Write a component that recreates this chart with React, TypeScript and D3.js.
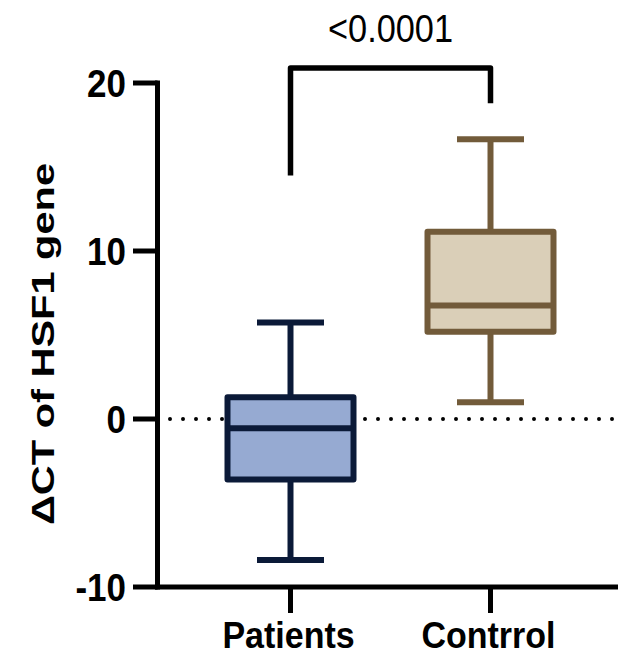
import React from 'react';
import * as d3 from 'd3';

const WIDTH = 618;
const HEIGHT = 662;
const FONT = 'Liberation Sans, Arial, Helvetica, sans-serif';

// data
const categories = ['Patients', 'Contrrol'];
const whiskerLow = [-8.4, 1.0];
const q1 = [-3.6, 5.2];
const median = [-0.55, 6.75];
const q3 = [1.3, 11.15];
const whiskerHigh = [5.75, 16.65];
const fills = ['#96aad2', '#dacfb8'];
const strokes = ['#0b1a38', '#725b3a'];
const yTicks = [-10, 0, 10, 20];
const pLabel = '<0.0001';
const bracket = { left: 14.5, top: 20.9, right: 18.8 };

const AXIS_X = 157.5;
const AXIS_Y = 587;
const STRETCH = 1.1; // text in the picture is a bit taller than wide

const App = () => {
  const y = d3.scaleLinear().domain([-10, 20]).range([587, 83]);
  const x = d3
    .scaleBand()
    .domain(categories)
    .range([190.5, 590.5])
    .paddingInner(0.37)
    .paddingOuter(0.185);
  const bw = x.bandwidth();
  const capHalf = 33.5;

  const bracketPath = d3.path();
  const bx0 = x(categories[0]) + bw / 2;
  const bx1 = x(categories[1]) + bw / 2;
  bracketPath.moveTo(bx0, y(bracket.left));
  bracketPath.lineTo(bx0, y(bracket.top));
  bracketPath.lineTo(bx1, y(bracket.top));
  bracketPath.lineTo(bx1, y(bracket.right));

  return (
    <svg
      width={WIDTH}
      height={HEIGHT}
      style={{ position: 'absolute', left: 0, top: 0, background: '#fff' }}
    >
      {/* zero reference line */}
      <line
        x1={170}
        x2={WIDTH}
        y1={y(0)}
        y2={y(0)}
        stroke="#000"
        strokeWidth={4}
        strokeLinecap="round"
        strokeDasharray="0 13"
      />

      {/* boxes */}
      {categories.map((c, i) => {
        const cx = x(c) + bw / 2;
        return (
          <g key={c} stroke={strokes[i]} strokeWidth={6}>
            <line x1={cx} x2={cx} y1={y(whiskerHigh[i])} y2={y(q3[i])} />
            <line x1={cx} x2={cx} y1={y(q1[i])} y2={y(whiskerLow[i])} />
            <line x1={cx - capHalf} x2={cx + capHalf} y1={y(whiskerHigh[i])} y2={y(whiskerHigh[i])} />
            <line x1={cx - capHalf} x2={cx + capHalf} y1={y(whiskerLow[i])} y2={y(whiskerLow[i])} />
            <rect
              x={x(c)}
              y={y(q3[i])}
              width={bw}
              height={y(q1[i]) - y(q3[i])}
              fill={fills[i]}
              strokeLinejoin="round"
            />
            <line x1={x(c)} x2={x(c) + bw} y1={y(median[i])} y2={y(median[i])} />
          </g>
        );
      })}

      {/* axes */}
      <line x1={AXIS_X} x2={AXIS_X} y1={y(20) - 2.5} y2={AXIS_Y + 2.5} stroke="#000" strokeWidth={5} />
      <line x1={AXIS_X - 2.5} x2={WIDTH} y1={AXIS_Y} y2={AXIS_Y} stroke="#000" strokeWidth={5} />
      {yTicks.map((t) => (
        <g key={t}>
          <line x1={133} x2={AXIS_X} y1={y(t)} y2={y(t)} stroke="#000" strokeWidth={5} />
          <text
            transform={`translate(126,${y(t) + 13.5}) scale(1,${STRETCH})`}
            textAnchor="end"
            fontFamily={FONT}
            fontWeight="bold"
            fontSize={35}
          >
            {t}
          </text>
        </g>
      ))}
      {categories.map((c) => {
        const cx = x(c) + bw / 2;
        return (
          <g key={c}>
            <line x1={cx} x2={cx} y1={AXIS_Y} y2={613} stroke="#000" strokeWidth={5} />
            <text
              transform={`translate(${cx - 2},648) scale(1,${STRETCH})`}
              textAnchor="middle"
              fontFamily={FONT}
              fontWeight="bold"
              fontSize={34}
            >
              {c}
            </text>
          </g>
        );
      })}

      {/* y title */}
      <text
        transform={`translate(54,344) rotate(-90)`}
        textAnchor="middle"
        fontFamily={FONT}
        fontWeight="bold"
        fontSize={32}
        textLength={362}
        lengthAdjust="spacingAndGlyphs"
      >
        ΔCT of HSF1 gene
      </text>

      {/* significance bracket */}
      <path
        d={bracketPath.toString()}
        fill="none"
        stroke="#000"
        strokeWidth={5.5}
        strokeLinejoin="round"
      />
      <text
        transform={`translate(${(bx0 + bx1) / 2},42) scale(1,${STRETCH})`}
        textAnchor="middle"
        fontFamily={FONT}
        fontSize={36}
        textLength={125}
        lengthAdjust="spacingAndGlyphs"
      >
        {pLabel}
      </text>
    </svg>
  );
};

export default App;
